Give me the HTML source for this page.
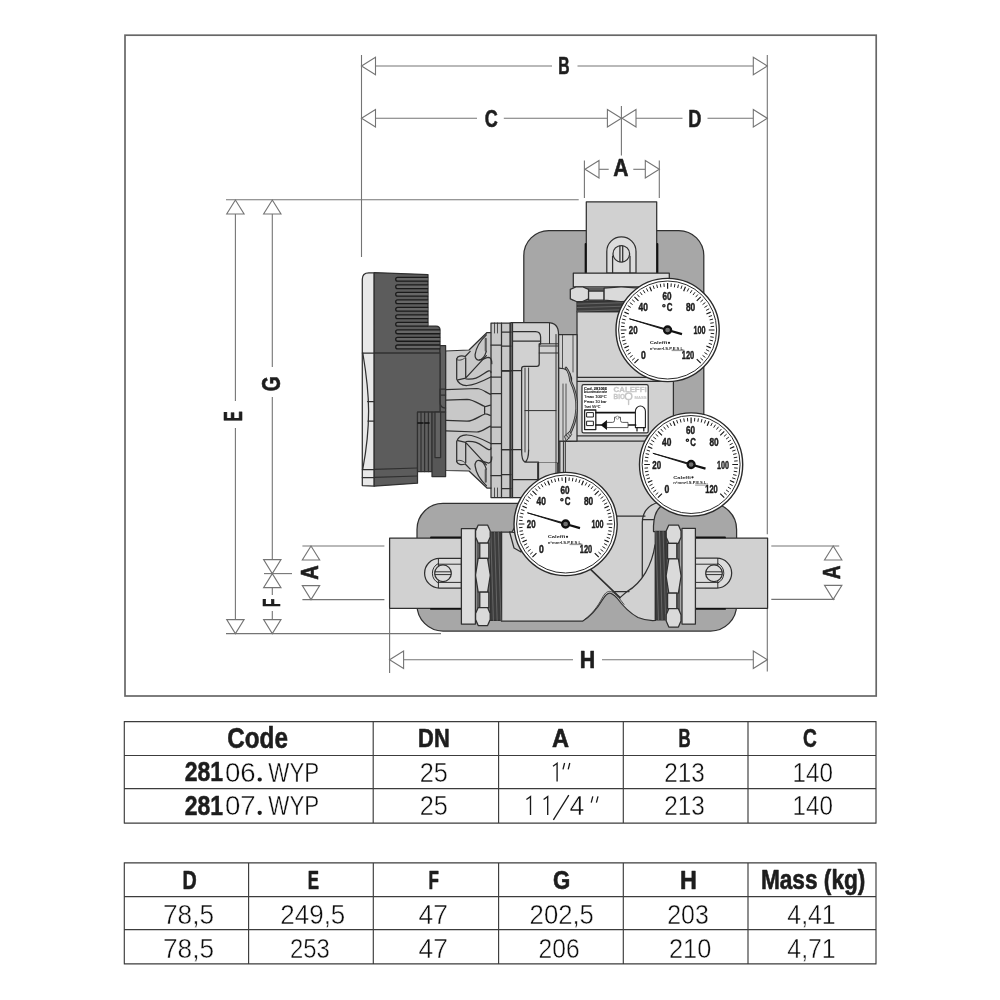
<!DOCTYPE html>
<html><head><meta charset="utf-8"><title>Dimensions</title>
<style>
html,body{margin:0;padding:0;background:#fff;}
body{width:1000px;height:1000px;overflow:hidden;}
svg{display:block;font-family:"Liberation Sans",sans-serif;filter:grayscale(1);}
</style></head><body>
<svg width="1000" height="1000" viewBox="0 0 1000 1000">
<rect x="0" y="0" width="1000" height="1000" fill="#ffffff"/>
<g id="frame">
<rect x="125" y="35.2" width="751.2" height="660.8" fill="none" stroke="#676767" stroke-width="1.7"/>
</g>
<g id="dims" fill="none" stroke="#747474" stroke-width="1.1">
<path d="M361.5 55L361.5 257"/>
<path d="M767.3 55L767.3 534.2"/>
<path d="M767.3 608.5L767.3 671.5"/>
<path d="M389.6 608.5L389.6 673"/>
<path d="M621.4 106L621.4 155.5"/>
<path d="M584.4 160.5L584.4 198"/>
<path d="M659.3 160.5L659.3 198"/>
<path d="M375.5 66L552 66"/>
<path d="M577.5 66L753.3 66"/>
<path d="M361.5 66L375.5 57.3L375.5 74.7Z" fill="#fff"/>
<path d="M767.3 66L753.3 57.3L753.3 74.7Z" fill="#fff"/>
<path d="M375.5 118.3L477 118.3"/>
<path d="M503.8 118.3L607.4 118.3"/>
<path d="M361.5 118.3L375.5 109.6L375.5 127.0Z" fill="#fff"/>
<path d="M621.4 118.3L607.4 109.6L607.4 127.0Z" fill="#fff"/>
<path d="M636 118.3L682.5 118.3"/>
<path d="M707.5 118.3L753.3 118.3"/>
<path d="M622 118.3L636 109.6L636 127.0Z" fill="#fff"/>
<path d="M767.3 118.3L753.3 109.6L753.3 127.0Z" fill="#fff"/>
<path d="M599 169.3L608.7 169.3"/>
<path d="M633.3 169.3L645.3 169.3"/>
<path d="M585 169.3L599 160.60000000000002L599 178.0Z" fill="#fff"/>
<path d="M659.3 169.3L645.3 160.60000000000002L645.3 178.0Z" fill="#fff"/>
<path d="M226 199.8L578.7 199.8"/>
<path d="M226 633.6L441 633.6"/>
<path d="M235.4 214L235.4 401"/>
<path d="M235.4 428L235.4 620"/>
<path d="M235.4 200L226.70000000000002 214L244.1 214Z" fill="#fff"/>
<path d="M235.4 633.6L226.70000000000002 619.6L244.1 619.6Z" fill="#fff"/>
<path d="M272.3 214L272.3 367"/>
<path d="M272.3 397L272.3 559.5"/>
<path d="M272.3 200L263.6 214L281.0 214Z" fill="#fff"/>
<path d="M272.3 573.6L263.6 559.6L281.0 559.6Z" fill="#fff"/>
<path d="M264 573.6L292 573.6"/>
<path d="M272.3 587.5L272.3 595"/>
<path d="M272.3 611L272.3 620"/>
<path d="M272.3 573.6L263.6 587.6L281.0 587.6Z" fill="#fff"/>
<path d="M272.3 633.6L263.6 619.6L281.0 619.6Z" fill="#fff"/>
<path d="M302.4 546L384.4 546"/>
<path d="M302.4 599.6L384.4 599.6"/>
<path d="M311 546L302.3 560L319.7 560Z" fill="#fff"/>
<path d="M311 599.6L302.3 585.6L319.7 585.6Z" fill="#fff"/>
<path d="M771.3 546L839.2 546"/>
<path d="M771.3 599.4L834.6 599.4"/>
<path d="M833.2 546L824.5 560L841.9000000000001 560Z" fill="#fff"/>
<path d="M833.2 599.4L824.5 585.4L841.9000000000001 585.4Z" fill="#fff"/>
<path d="M403.6 659.7L573 659.7"/>
<path d="M602 659.7L753.3 659.7"/>
<path d="M389.6 659.7L403.6 651.0L403.6 668.4000000000001Z" fill="#fff"/>
<path d="M767.3 659.7L753.3 651.0L753.3 668.4000000000001Z" fill="#fff"/>
</g>
<text transform="translate(558.30,73.70) scale(0.6726,1)" font-size="23.33" font-weight="bold" fill="#1e1e1e"  stroke="#1e1e1e" stroke-width="0.6" stroke-linejoin="round">B</text>
<text transform="translate(484.80,127.20) scale(0.7479,1)" font-size="24.14" font-weight="bold" fill="#1e1e1e"  stroke="#1e1e1e" stroke-width="0.6" stroke-linejoin="round">C</text>
<text transform="translate(688.30,126.80) scale(0.7749,1)" font-size="23.48" font-weight="bold" fill="#1e1e1e"  stroke="#1e1e1e" stroke-width="0.6" stroke-linejoin="round">D</text>
<text transform="translate(613.30,175.80) scale(0.8937,1)" font-size="23.62" font-weight="bold" fill="#1e1e1e"  stroke="#1e1e1e" stroke-width="0.6" stroke-linejoin="round">A</text>
<text transform="translate(579.80,668.00) scale(0.8837,1)" font-size="24.20" font-weight="bold" fill="#1e1e1e"  stroke="#1e1e1e" stroke-width="0.6" stroke-linejoin="round">H</text>
<text transform="rotate(-90) translate(-421.30,241.90) scale(0.5963,1)" font-size="25.22" font-weight="bold" fill="#1e1e1e"  stroke="#1e1e1e" stroke-width="0.6" stroke-linejoin="round">E</text>
<text transform="rotate(-90) translate(-391.30,279.90) scale(0.7563,1)" font-size="25.43" font-weight="bold" fill="#1e1e1e"  stroke="#1e1e1e" stroke-width="0.6" stroke-linejoin="round">G</text>
<text transform="rotate(-90) translate(-607.10,279.70) scale(0.5656,1)" font-size="24.35" font-weight="bold" fill="#1e1e1e"  stroke="#1e1e1e" stroke-width="0.6" stroke-linejoin="round">F</text>
<text transform="rotate(-90) translate(-579.70,317.90) scale(0.8118,1)" font-size="24.64" font-weight="bold" fill="#1e1e1e"  stroke="#1e1e1e" stroke-width="0.6" stroke-linejoin="round">A</text>
<text transform="rotate(-90) translate(-579.30,840.10) scale(0.7872,1)" font-size="24.35" font-weight="bold" fill="#1e1e1e"  stroke="#1e1e1e" stroke-width="0.6" stroke-linejoin="round">A</text>
<g id="draw" stroke="#303030" stroke-width="1.25" stroke-linejoin="round" stroke-linecap="round">
<rect x="523.8" y="230.5" width="180" height="255" rx="25" ry="25" fill="#a6a7a9"/>
<rect x="417" y="503.4" width="319.6" height="127.6" rx="26" ry="26" fill="#a6a7a9"/>
<rect x="586.3" y="201.8" width="70.4" height="72" fill="#d0d1d2"/>
<path d="M585.6 244V273M657.4 244V273" stroke="#111" stroke-width="1.9" fill="none"/>
<path d="M606.8 273V251.5A14.6 14.6 0 0 1 636 251.5V273Z" fill="#dcdcdd"/>
<path d="M612.6 273V256M630 273V256" fill="none"/>
<circle cx="621.3" cy="253.8" r="8.3" fill="#dcdcdd"/>
<path d="M619.9 245.8V261.8M622.7 245.8V261.8" fill="none"/>
<rect x="389.6" y="538" width="72" height="70.3" fill="#d0d1d2"/>
<path d="M431 537.4H461M431 608.9H461" stroke="#111" stroke-width="1.9" fill="none"/>
<path d="M461.4 558.4H439.4A14.8 14.8 0 0 0 439.4 588H461.4Z" fill="#dcdcdd"/>
<path d="M461.4 564.2H438.4M461.4 582.4H438.4M438.4 558.6V587.8" fill="none" stroke-width="1"/>
<path d="M438.4 563.4A11 11 0 0 0 438.4 583" fill="none" stroke-width="1"/>
<circle cx="443" cy="573.2" r="8.3" fill="#dcdcdd"/>
<path d="M435 571.8H451M435 574.6H451" fill="none" stroke-width="1"/>
<rect x="695.4" y="538" width="72.2" height="70.3" fill="#d0d1d2"/>
<path d="M695.4 537.4H725M695.4 608.9H725" stroke="#111" stroke-width="1.9" fill="none"/>
<path d="M695.4 558.2H716.8A14.9 14.9 0 0 1 716.8 588H695.4Z" fill="#dcdcdd"/>
<path d="M695.4 564.2H717.8M695.4 582.4H717.8M717.8 558.4V587.8" fill="none" stroke-width="1"/>
<path d="M717.8 563.4A11 11 0 0 1 717.8 583" fill="none" stroke-width="1"/>
<circle cx="714" cy="573.2" r="8.3" fill="#dcdcdd"/>
<path d="M706 571.8H722M706 574.6H722" fill="none" stroke-width="1"/>
<path d="M577 311.6H665.5V377.4H673.4V480L666 503Q654 508 653.5 526V531.5H655.4V620.4C650 620.8 644 620 638 617.5C628 612 621 603.5 617 598C614 595 612 593.2 609.5 593.2C607.5 593.2 605.5 595 602.7 599.5C597 609 590 617 582.5 621.2H501.5V532H512L530 500L557 478V441H570.8V377.4H577Z" fill="#d0d1d2"/>
<path d="M570.8 377.4H673.4M570.8 381.3H673.4M570.8 435.9H673.4M565.3 441H673.4" fill="none"/>
<path d="M557 441V478M559.8 441V476" fill="none"/>
<path d="M558.5 334.5H577V441H558.5Z" fill="#d0d1d2"/>
<path d="M562.5 334.5V368M573 334.5V372" fill="none" stroke-width="0.8"/>
<path d="M559 368Q570 368 571.5 378V381" fill="none"/>
<path d="M566 368Q569.5 372 570.6 381Q584.4 409 567.4 438" fill="none" stroke-width="2.6"/>
<path d="M566 368Q569.5 372 570.6 381Q584.4 409 567.4 438" fill="none" stroke="#c4c4c5" stroke-width="0.7"/>
<path d="M564.6 436L569.6 431.4L571.6 434.6L566.6 440.6Z" fill="#bbb" stroke-width="0.9"/>
<path d="M566.4 435.2L569 438.4M568 433.4L570.4 436.4" fill="none" stroke-width="0.7"/>
<path d="M565.3 441V478M563.4 441V476" fill="none" stroke-width="1"/>
<path d="M566 384V436M563 384V440" fill="none" stroke-width="0.8"/>
<path d="M659.4 502Q643 506 642.3 522V577M642.3 519.5H653.5" fill="none"/>
<path d="M590.6 569.4L620 597.6" fill="none" stroke-width="1.6"/>
<path d="M655 545C652 565 642 583 627 591.5L620 597.6" fill="none"/>
<path d="M613 591.5H629" fill="none"/>
<path d="M617 516H645" fill="none"/>
<path d="M584.6 619.4C591.6 614.6 597.6 606.6 602.2 598C604.6 593.6 606.8 591.4 609.4 591.4C612.4 591.4 615 593.6 618.6 597.4C620.6 600 622.4 602.4 624 604.4" fill="none" stroke-width="0.8"/>
<path d="M509.6 532L514 548L521 552L525 534Z" fill="#d0d1d2"/>
<rect x="582" y="384.6" width="66.2" height="48.3" rx="1.6" fill="#fff"/>
<text x="584.0" y="390.0" font-size="4.3" font-weight="bold" fill="#111" stroke="#111" stroke-width="0.12" textLength="23" lengthAdjust="spacingAndGlyphs">Cod. 281066</text>
<text x="584.0" y="393.4" font-size="3.0" font-weight="normal" fill="#111" stroke="#111" stroke-width="0.12" textLength="23" lengthAdjust="spacingAndGlyphs">Anti-condensation valve</text>
<text x="584.0" y="398.2" font-size="4.4" font-weight="normal" fill="#111" stroke="#111" stroke-width="0.12" textLength="22.6" lengthAdjust="spacingAndGlyphs">Tmax 100&#176;C</text>
<text x="584.0" y="402.9" font-size="4.4" font-weight="normal" fill="#111" stroke="#111" stroke-width="0.12" textLength="22.6" lengthAdjust="spacingAndGlyphs">Pmax 10 bar</text>
<text x="584.0" y="407.6" font-size="4.4" font-weight="normal" fill="#111" stroke="#111" stroke-width="0.12" textLength="16.4" lengthAdjust="spacingAndGlyphs">Tset 55&#176;C</text>
<text x="613.6" y="392.3" font-size="7.2" font-weight="bold" fill="#c3c7ca" stroke="#c3c7ca" stroke-width="0.3" textLength="33" lengthAdjust="spacingAndGlyphs">CALEFFI</text>
<text x="613.6" y="399" font-size="6.4" font-weight="bold" fill="#c3c7ca" stroke="#c3c7ca" stroke-width="0.3" textLength="11.4" lengthAdjust="spacingAndGlyphs">BIO</text>
<text x="634.6" y="398.8" font-size="3.8" font-weight="bold" fill="#c3c7ca" stroke="#c3c7ca" stroke-width="0.12" textLength="12" lengthAdjust="spacingAndGlyphs">MASS</text>
<circle cx="628.6" cy="396.2" r="3.3" fill="#fff" stroke="#c3c7ca" stroke-width="1.5"/>
<path d="M628.6 399.8V404.6" stroke="#c3c7ca" stroke-width="1.4" fill="none"/>
<rect x="584.6" y="410" width="11.2" height="19.6" fill="#fff" stroke="#222" stroke-width="1.3"/>
<rect x="587" y="412.6" width="6.4" height="4.4" fill="#fff" stroke="#222" stroke-width="1"/>
<rect x="587" y="421.2" width="6.4" height="4.4" fill="#fff" stroke="#222" stroke-width="1"/>
<path d="M596 412.6H635" stroke="#111" stroke-width="1.7" fill="none"/>
<path d="M635.4 427.6V411.2A5 5.2 0 0 1 645.4 411.2V427.6Z" fill="#fff" stroke="#222" stroke-width="1.1"/>
<path d="M637 428V431M643.8 428V431" stroke="#111" stroke-width="1.2" fill="none"/>
<path d="M628.5 425H635.6" stroke="#111" stroke-width="1.7" fill="none"/>
<path d="M596 425H601" stroke="#111" stroke-width="1.7" fill="none"/>
<path d="M600.6 425L607 420V430Z" fill="#111" stroke="none"/>
<path d="M607 422.4H612.5Q614.5 422.4 614.5 420.4V417.2H620.5V420.4Q620.5 422.4 622.5 422.4H628V427.6H607Z" fill="#fff" stroke="#333" stroke-width="0.8"/>
<circle cx="617.5" cy="417.6" r="1.6" fill="#fff" stroke="#555" stroke-width="0.5"/>
<rect x="577" y="301" width="88.5" height="10.600000000000023" fill="#3c3c3c"/>
<path d="M577 304.07L665.5 301.47M577 307.60L665.5 305.00M577 311.13L665.5 308.53" stroke="#6e6e6e" stroke-width="0.8" fill="none"/>
<rect x="490.2" y="532" width="11.300000000000011" height="88.39999999999998" fill="#3c3c3c"/>
<path d="M490.78 532L493.38 620.4M494.55 532L497.15 620.4M498.32 532L500.92 620.4" stroke="#6e6e6e" stroke-width="0.8" fill="none"/>
<rect x="655.4" y="531.4" width="10.800000000000068" height="88.39999999999998" fill="#3c3c3c"/>
<path d="M655.90 531.4L658.50 619.8M659.50 531.4L662.10 619.8M663.10 531.4L665.70 619.8" stroke="#6e6e6e" stroke-width="0.8" fill="none"/>
<rect x="573.3" y="273.2" width="96" height="13.6" fill="#dcdcdd"/>
<rect x="461.4" y="528.6" width="14" height="95.4" fill="#dcdcdd"/>
<rect x="682" y="528.4" width="13.4" height="95.6" fill="#dcdcdd"/>
<path d="M476.60 527.00L476.60 623.50L489.20 623.50L489.20 527.00Z" fill="#5c5c5d" stroke="none"/>
<path d="M478.20 525.00L487.60 525.00L490.20 531.00L490.20 537.00L487.60 543.00L478.20 543.00L475.60 537.00L475.60 531.00Z" fill="#dadadb"/>
<path d="M479.80 543.00L488.80 543.00L488.80 558.30L479.80 558.30Z" fill="#dadadb"/>
<path d="M478.20 558.30L487.60 558.30L490.20 574.65L490.20 575.85L487.60 592.20L478.20 592.20L475.60 575.85L475.60 574.65Z" fill="#dadadb"/>
<path d="M479.80 592.20L488.80 592.20L488.80 607.50L479.80 607.50Z" fill="#dadadb"/>
<path d="M478.20 607.50L487.60 607.50L490.20 613.50L490.20 619.50L487.60 625.50L478.20 625.50L475.60 619.50L475.60 613.50Z" fill="#dadadb"/>
<path d="M680.00 527.00L680.00 625.00L667.20 625.00L667.20 527.00Z" fill="#5c5c5d" stroke="none"/>
<path d="M678.40 525.00L668.80 525.00L666.20 531.09L666.20 537.18L668.80 543.27L678.40 543.27L681.00 537.18L681.00 531.09Z" fill="#dadadb"/>
<path d="M676.80 543.27L667.60 543.27L667.60 558.80L676.80 558.80Z" fill="#dadadb"/>
<path d="M678.40 558.80L668.80 558.80L666.20 575.40L666.20 576.60L668.80 593.20L678.40 593.20L681.00 576.60L681.00 575.40Z" fill="#dadadb"/>
<path d="M676.80 593.20L667.60 593.20L667.60 608.73L676.80 608.73Z" fill="#dadadb"/>
<path d="M678.40 608.73L668.80 608.73L666.20 614.82L666.20 620.91L668.80 627.00L678.40 627.00L681.00 620.91L681.00 614.82Z" fill="#dadadb"/>
<path d="M572.30 287.80L670.30 287.80L670.30 300.50L572.30 300.50Z" fill="#5c5c5d" stroke="none"/>
<path d="M570.30 289.40L570.30 298.90L576.39 301.50L582.48 301.50L588.57 298.90L588.57 289.40L582.48 286.80L576.39 286.80Z" fill="#dadadb"/>
<path d="M588.57 291.00L588.57 300.10L604.10 300.10L604.10 291.00Z" fill="#dadadb"/>
<path d="M604.10 288.10L604.10 300.20L620.70 301.50L621.90 301.50L638.50 300.20L638.50 288.10L621.90 286.80L620.70 286.80Z" fill="#dadadb"/>
<path d="M638.50 291.00L638.50 300.10L654.03 300.10L654.03 291.00Z" fill="#dadadb"/>
<path d="M654.03 289.40L654.03 298.90L660.12 301.50L666.21 301.50L672.30 298.90L672.30 289.40L666.21 286.80L660.12 286.80Z" fill="#dadadb"/>
<path d="M445.5 351L469 350L487 332.5H491V323H511V497.5H491V488H487L469 471L445.5 470.5Z" fill="#c8c8c9"/>
<path d="M511 322.5H548Q558.5 322.5 558.5 334V463H538V497.5H511Z" fill="#d0d1d2"/>
<path d="M538 463V497.5H557V463Z" fill="#d0d1d2" stroke="none"/>
<path d="M538 463V497.5" fill="none"/>
<path d="M491 333V488M501.5 323V497.5M510 323V497.5M512.5 323V497.5" fill="none"/>
<path d="M494.5 323V333M497.5 323V333M494.5 488V497.5M497.5 488V497.5" fill="none" stroke-width="0.8"/>
<g>
<path d="M491 345H501.5M491 377H501.5M491 393.5H501.5M501.5 332H511M501.5 346H511M501.5 371H511" fill="none"/>
<path d="M456.7 358.8V379C458 383 462 385.6 467 385.5C472 385.4 482 381.6 491.3 376.8" fill="none"/>
<path d="M456.7 358.8C457.5 356 461.5 355.4 465.2 356.5L470.2 351.4" fill="none"/>
<path d="M456.9 359.6C459 361 463 360 465.4 357.4" fill="none" stroke-width="0.9"/>
<path d="M465.7 357.9V378.1M458 379.9L465.7 378.1M466.1 377.7L486.4 355.6" fill="none"/>
<path d="M486.4 334.9C481 340 476 348 475.1 354.7C474.8 358 476.6 360.3 478.7 360.1C482 359.8 485 356 486.4 351.1" fill="none"/>
<path d="M479.5 360C483 359.6 486 357.6 488.6 357.4C491 357.6 491.8 360 491.8 363.7" fill="none"/>
<path d="M466.1 379C470 379.2 474 378.8 476 378.1C481 376.4 485 372.4 488.6 370.9C490.4 370.4 491.2 371.4 490.9 372.7" fill="none"/>
<path d="M445.9 389.6L476.9 388.5C482 388.6 486 392.6 490.4 394.3" fill="none"/>
<path d="M445.9 400.2L467 399.3C474 399.4 480 405 485 406.5C487 406.6 489 405.6 490.4 405.1M484.6 406.5V410.3" fill="none"/>
<path d="M485.75 338.8V350.8" stroke="#5a5a5a" stroke-width="2.1" fill="none" stroke-linecap="round"/>
</g>
<g transform="translate(0,820.5) scale(1,-1)">
<path d="M491 345H501.5M491 377H501.5M491 393.5H501.5M501.5 332H511M501.5 346H511M501.5 371H511" fill="none"/>
<path d="M456.7 358.8V379C458 383 462 385.6 467 385.5C472 385.4 482 381.6 491.3 376.8" fill="none"/>
<path d="M456.7 358.8C457.5 356 461.5 355.4 465.2 356.5L470.2 351.4" fill="none"/>
<path d="M456.9 359.6C459 361 463 360 465.4 357.4" fill="none" stroke-width="0.9"/>
<path d="M465.7 357.9V378.1M458 379.9L465.7 378.1M466.1 377.7L486.4 355.6" fill="none"/>
<path d="M486.4 334.9C481 340 476 348 475.1 354.7C474.8 358 476.6 360.3 478.7 360.1C482 359.8 485 356 486.4 351.1" fill="none"/>
<path d="M479.5 360C483 359.6 486 357.6 488.6 357.4C491 357.6 491.8 360 491.8 363.7" fill="none"/>
<path d="M466.1 379C470 379.2 474 378.8 476 378.1C481 376.4 485 372.4 488.6 370.9C490.4 370.4 491.2 371.4 490.9 372.7" fill="none"/>
<path d="M445.9 389.6L476.9 388.5C482 388.6 486 392.6 490.4 394.3" fill="none"/>
<path d="M445.9 400.2L467 399.3C474 399.4 480 405 485 406.5C487 406.6 489 405.6 490.4 405.1M484.6 406.5V410.3" fill="none"/>
<path d="M485.75 338.8V350.8" stroke="#5a5a5a" stroke-width="2.1" fill="none" stroke-linecap="round"/>
</g>
<path d="M512.5 331.6H535.5Q540.6 331.6 540.6 337V344H539.2V364Q539.2 366.4 536.8 366.4H524Q521.6 366.4 521.6 369V450" fill="none"/>
<path d="M512.5 341H540.6M501.5 370.6H521.6M501.5 449.6H521.6" fill="none"/>
<path d="M549.5 323V343.6M539.2 343.8H558.5M539.2 346H558.5M539.2 353H558.5" fill="none" stroke-width="1"/>
<path d="M525 368V452M528.6 368V450" fill="none" stroke-width="0.9"/>
<path d="M525 410.6H556" fill="none" stroke-width="1"/>
<path d="M521.6 450Q521.6 461 525 462.2H538.5V497.5M528.6 450Q528.6 460 525 462.2" fill="none"/>
<path d="M512.5 479.6H538.5" fill="none"/>
<path d="M556 334.5V497.5M558.6 353V478" fill="none" stroke-width="1"/>
<path d="M362.3 485.6V279.3Q362.3 272.8 368.8 272.8H374.2V486.2Z" fill="#e8e8e8"/>
<path d="M362.3 353H374M367.6 401.5H374M368 421H374M362.3 469.6H374M362.3 477.6H374" fill="none"/>
<path d="M362.8 353C366 372 368.6 392 368.6 411C368.6 432 366 452 362.8 469" fill="none"/>
<path d="M374.2 272.6L428 274.6V326H436Q440 326 440 330V353H374.2Z" fill="#5b5c5e"/>
<rect x="440" y="345.6" width="5.6" height="66.4" fill="#606163"/>
<path d="M374.2 353H440V412H417.5V483.2L374.2 486.2Z" fill="#5b5c5e"/>
<path d="M374.2 469.4L417.5 468M374.2 477.4L417.5 476" fill="none"/>
<path d="M440 389V402Q440 408 445.6 408M440 389H445.6M440 395H445.6" fill="none"/>
<path d="M427.6 277.30H397.6A1.9 1.9 0 0 0 397.6 281.10H427.6" fill="#666769" stroke="#1a1a1a" stroke-width="1.3"/>
<path d="M427.6 284.82H397.6A1.9 1.9 0 0 0 397.6 288.62H427.6" fill="#666769" stroke="#1a1a1a" stroke-width="1.3"/>
<path d="M427.6 292.34H397.6A1.9 1.9 0 0 0 397.6 296.14H427.6" fill="#666769" stroke="#1a1a1a" stroke-width="1.3"/>
<path d="M427.6 299.86H397.6A1.9 1.9 0 0 0 397.6 303.66H427.6" fill="#666769" stroke="#1a1a1a" stroke-width="1.3"/>
<path d="M427.6 307.38H397.6A1.9 1.9 0 0 0 397.6 311.18H427.6" fill="#666769" stroke="#1a1a1a" stroke-width="1.3"/>
<path d="M427.6 314.90H397.6A1.9 1.9 0 0 0 397.6 318.70H427.6" fill="#666769" stroke="#1a1a1a" stroke-width="1.3"/>
<path d="M427.6 322.42H397.6A1.9 1.9 0 0 0 397.6 326.22H427.6" fill="#666769" stroke="#1a1a1a" stroke-width="1.3"/>
<path d="M439.6 329.94H397.6A1.9 1.9 0 0 0 397.6 333.74H439.6" fill="#666769" stroke="#1a1a1a" stroke-width="1.3"/>
<path d="M439.6 337.46H397.6A1.9 1.9 0 0 0 397.6 341.26H439.6" fill="#666769" stroke="#1a1a1a" stroke-width="1.3"/>
<path d="M439.6 344.98H397.6A1.9 1.9 0 0 0 397.6 348.78H439.6" fill="#666769" stroke="#1a1a1a" stroke-width="1.3"/>
<rect x="417.5" y="412" width="14.6" height="59.6" fill="#5f6062"/>
<path d="M421 412V471.6M424.6 412V471.6M428.4 412V471.6" fill="none"/>
<rect x="432" y="412" width="13.6" height="64.6" fill="#56575a"/>
<rect x="435" y="412" width="5.6" height="45.6" fill="#626365"/>
<path d="M418 423H423M425 423H429" stroke="#111" stroke-width="1.6" fill="none"/>
</g>
<g transform="translate(667.6,330.0)">
<circle r="51.6" fill="#fff" stroke="#2a2a2a" stroke-width="1.4"/>
<circle r="49" fill="#fff" stroke="#2a2a2a" stroke-width="1"/>
<path d="M-32.85 28.06L-35.51 30.33M-34.95 25.39L-37.78 27.45M-36.83 22.57L-39.82 24.40M-38.49 19.61L-41.61 21.20M-41.09 13.35L-44.41 14.43M-42.01 10.08L-45.41 10.90M-42.67 6.76L-46.13 7.31M-43.07 3.39L-46.56 3.66M-43.07 -3.39L-46.56 -3.66M-42.67 -6.76L-46.13 -7.31M-42.01 -10.08L-45.41 -10.90M-41.09 -13.35L-44.41 -14.43M-38.49 -19.61L-41.61 -21.20M-36.83 -22.57L-39.82 -24.40M-34.95 -25.39L-37.78 -27.45M-32.85 -28.06L-35.51 -30.33M-28.06 -32.85L-30.33 -35.51M-25.39 -34.95L-27.45 -37.78M-22.57 -36.83L-24.40 -39.82M-19.61 -38.49L-21.20 -41.61M-13.35 -41.09L-14.43 -44.41M-10.08 -42.01L-10.90 -45.41M-6.76 -42.67L-7.31 -46.13M-3.39 -43.07L-3.66 -46.56M3.39 -43.07L3.66 -46.56M6.76 -42.67L7.31 -46.13M10.08 -42.01L10.90 -45.41M13.35 -41.09L14.43 -44.41M19.61 -38.49L21.20 -41.61M22.57 -36.83L24.40 -39.82M25.39 -34.95L27.45 -37.78M28.06 -32.85L30.33 -35.51M32.85 -28.06L35.51 -30.33M34.95 -25.39L37.78 -27.45M36.83 -22.57L39.82 -24.40M38.49 -19.61L41.61 -21.20M41.09 -13.35L44.41 -14.43M42.01 -10.08L45.41 -10.90M42.67 -6.76L46.13 -7.31M43.07 -3.39L46.56 -3.66M43.07 3.39L46.56 3.66M42.67 6.76L46.13 7.31M42.01 10.08L45.41 10.90M41.09 13.35L44.41 14.43M38.49 19.61L41.61 21.20M36.83 22.57L39.82 24.40M34.95 25.39L37.78 27.45M32.85 28.06L35.51 30.33" stroke="#222" stroke-width="1.0" fill="none" stroke-linecap="butt"/>
<path d="M-29.13 29.13L-33.16 33.16M-38.80 16.07L-43.15 17.87M-41.20 -0.00L-46.90 -0.00M-38.80 -16.07L-43.15 -17.87M-29.13 -29.13L-33.16 -33.16M-16.07 -38.80L-17.87 -43.15M0.00 -41.20L0.00 -46.90M16.07 -38.80L17.87 -43.15M29.13 -29.13L33.16 -33.16M38.80 -16.07L43.15 -17.87M41.20 -0.00L46.90 -0.00M38.80 16.07L43.15 17.87M29.13 29.13L33.16 33.16" stroke="#1a1a1a" stroke-width="1.2" fill="none" stroke-linecap="butt"/>
<text transform="translate(-5.00,-30.30) scale(0.7775,1)" font-size="10.43" font-weight="bold" fill="#1c1c1c" stroke="#1c1c1c" stroke-width="0.45">60</text>
<text transform="translate(-29.00,-18.60) scale(0.8034,1)" font-size="10.43" font-weight="bold" fill="#1c1c1c" stroke="#1c1c1c" stroke-width="0.45">40</text>
<text transform="translate(18.30,-18.60) scale(0.7948,1)" font-size="10.43" font-weight="bold" fill="#1c1c1c" stroke="#1c1c1c" stroke-width="0.45">80</text>
<text transform="translate(-38.80,4.00) scale(0.7602,1)" font-size="10.43" font-weight="bold" fill="#1c1c1c" stroke="#1c1c1c" stroke-width="0.45">20</text>
<text transform="translate(26.00,4.00) scale(0.6890,1)" font-size="10.43" font-weight="bold" fill="#1c1c1c" stroke="#1c1c1c" stroke-width="0.45">100</text>
<text transform="translate(-26.60,28.90) scale(0.8293,1)" font-size="10.43" font-weight="bold" fill="#1c1c1c" stroke="#1c1c1c" stroke-width="0.45">0</text>
<text transform="translate(14.20,28.90) scale(0.7177,1)" font-size="10.43" font-weight="bold" fill="#1c1c1c" stroke="#1c1c1c" stroke-width="0.45">120</text>
<text transform="translate(-0.90,-18.60) scale(0.7591,1)" font-size="10.43" font-weight="bold" fill="#1c1c1c" stroke="#1c1c1c" stroke-width="0.45">C</text>
<circle cx="-3.7" cy="-24.3" r="1.15" fill="#fff" stroke="#1c1c1c" stroke-width="1.25"/>
<text x="-17.9" y="14.2" font-size="4" font-weight="bold" fill="#222" textLength="17.6" lengthAdjust="spacingAndGlyphs">Caleffi</text>
<circle cx="1.4" cy="12.8" r="1.1" fill="#222"/>
<text x="-17.9" y="19.8" font-size="4" font-weight="bold" fill="#222" textLength="34.6" lengthAdjust="spacingAndGlyphs">n&#176;mm&#8226;I.S.P.E.S.L.</text>
<path d="M4 20.6H16.8" stroke="#222" stroke-width="0.5" fill="none"/>
<path d="M-38.2 -11.2L-0.5 -0.8L0.5 0.8Z" fill="#111" stroke="#111" stroke-width="0.9" stroke-linejoin="round"/>
<path d="M0 0L14.4 4.1" stroke="#111" stroke-width="2.3" fill="none" stroke-linecap="butt"/>
<circle r="3.5" fill="#707070" stroke="#111" stroke-width="2.3"/>
</g>
<g transform="translate(691.1,464.5)">
<circle r="51.6" fill="#fff" stroke="#2a2a2a" stroke-width="1.4"/>
<circle r="49" fill="#fff" stroke="#2a2a2a" stroke-width="1"/>
<path d="M-32.85 28.06L-35.51 30.33M-34.95 25.39L-37.78 27.45M-36.83 22.57L-39.82 24.40M-38.49 19.61L-41.61 21.20M-41.09 13.35L-44.41 14.43M-42.01 10.08L-45.41 10.90M-42.67 6.76L-46.13 7.31M-43.07 3.39L-46.56 3.66M-43.07 -3.39L-46.56 -3.66M-42.67 -6.76L-46.13 -7.31M-42.01 -10.08L-45.41 -10.90M-41.09 -13.35L-44.41 -14.43M-38.49 -19.61L-41.61 -21.20M-36.83 -22.57L-39.82 -24.40M-34.95 -25.39L-37.78 -27.45M-32.85 -28.06L-35.51 -30.33M-28.06 -32.85L-30.33 -35.51M-25.39 -34.95L-27.45 -37.78M-22.57 -36.83L-24.40 -39.82M-19.61 -38.49L-21.20 -41.61M-13.35 -41.09L-14.43 -44.41M-10.08 -42.01L-10.90 -45.41M-6.76 -42.67L-7.31 -46.13M-3.39 -43.07L-3.66 -46.56M3.39 -43.07L3.66 -46.56M6.76 -42.67L7.31 -46.13M10.08 -42.01L10.90 -45.41M13.35 -41.09L14.43 -44.41M19.61 -38.49L21.20 -41.61M22.57 -36.83L24.40 -39.82M25.39 -34.95L27.45 -37.78M28.06 -32.85L30.33 -35.51M32.85 -28.06L35.51 -30.33M34.95 -25.39L37.78 -27.45M36.83 -22.57L39.82 -24.40M38.49 -19.61L41.61 -21.20M41.09 -13.35L44.41 -14.43M42.01 -10.08L45.41 -10.90M42.67 -6.76L46.13 -7.31M43.07 -3.39L46.56 -3.66M43.07 3.39L46.56 3.66M42.67 6.76L46.13 7.31M42.01 10.08L45.41 10.90M41.09 13.35L44.41 14.43M38.49 19.61L41.61 21.20M36.83 22.57L39.82 24.40M34.95 25.39L37.78 27.45M32.85 28.06L35.51 30.33" stroke="#222" stroke-width="1.0" fill="none" stroke-linecap="butt"/>
<path d="M-29.13 29.13L-33.16 33.16M-38.80 16.07L-43.15 17.87M-41.20 -0.00L-46.90 -0.00M-38.80 -16.07L-43.15 -17.87M-29.13 -29.13L-33.16 -33.16M-16.07 -38.80L-17.87 -43.15M0.00 -41.20L0.00 -46.90M16.07 -38.80L17.87 -43.15M29.13 -29.13L33.16 -33.16M38.80 -16.07L43.15 -17.87M41.20 -0.00L46.90 -0.00M38.80 16.07L43.15 17.87M29.13 29.13L33.16 33.16" stroke="#1a1a1a" stroke-width="1.2" fill="none" stroke-linecap="butt"/>
<text transform="translate(-5.00,-30.30) scale(0.7775,1)" font-size="10.43" font-weight="bold" fill="#1c1c1c" stroke="#1c1c1c" stroke-width="0.45">60</text>
<text transform="translate(-29.00,-18.60) scale(0.8034,1)" font-size="10.43" font-weight="bold" fill="#1c1c1c" stroke="#1c1c1c" stroke-width="0.45">40</text>
<text transform="translate(18.30,-18.60) scale(0.7948,1)" font-size="10.43" font-weight="bold" fill="#1c1c1c" stroke="#1c1c1c" stroke-width="0.45">80</text>
<text transform="translate(-38.80,4.00) scale(0.7602,1)" font-size="10.43" font-weight="bold" fill="#1c1c1c" stroke="#1c1c1c" stroke-width="0.45">20</text>
<text transform="translate(26.00,4.00) scale(0.6890,1)" font-size="10.43" font-weight="bold" fill="#1c1c1c" stroke="#1c1c1c" stroke-width="0.45">100</text>
<text transform="translate(-26.60,28.90) scale(0.8293,1)" font-size="10.43" font-weight="bold" fill="#1c1c1c" stroke="#1c1c1c" stroke-width="0.45">0</text>
<text transform="translate(14.20,28.90) scale(0.7177,1)" font-size="10.43" font-weight="bold" fill="#1c1c1c" stroke="#1c1c1c" stroke-width="0.45">120</text>
<text transform="translate(-0.90,-18.60) scale(0.7591,1)" font-size="10.43" font-weight="bold" fill="#1c1c1c" stroke="#1c1c1c" stroke-width="0.45">C</text>
<circle cx="-3.7" cy="-24.3" r="1.15" fill="#fff" stroke="#1c1c1c" stroke-width="1.25"/>
<text x="-17.9" y="14.2" font-size="4" font-weight="bold" fill="#222" textLength="17.6" lengthAdjust="spacingAndGlyphs">Caleffi</text>
<circle cx="1.4" cy="12.8" r="1.1" fill="#222"/>
<text x="-17.9" y="19.8" font-size="4" font-weight="bold" fill="#222" textLength="34.6" lengthAdjust="spacingAndGlyphs">n&#176;mm&#8226;I.S.P.E.S.L.</text>
<path d="M4 20.6H16.8" stroke="#222" stroke-width="0.5" fill="none"/>
<path d="M-38.2 -11.2L-0.5 -0.8L0.5 0.8Z" fill="#111" stroke="#111" stroke-width="0.9" stroke-linejoin="round"/>
<path d="M0 0L14.4 4.1" stroke="#111" stroke-width="2.3" fill="none" stroke-linecap="butt"/>
<circle r="3.5" fill="#707070" stroke="#111" stroke-width="2.3"/>
</g>
<g transform="translate(565.6,524.0)">
<circle r="51.6" fill="#fff" stroke="#2a2a2a" stroke-width="1.4"/>
<circle r="49" fill="#fff" stroke="#2a2a2a" stroke-width="1"/>
<path d="M-32.85 28.06L-35.51 30.33M-34.95 25.39L-37.78 27.45M-36.83 22.57L-39.82 24.40M-38.49 19.61L-41.61 21.20M-41.09 13.35L-44.41 14.43M-42.01 10.08L-45.41 10.90M-42.67 6.76L-46.13 7.31M-43.07 3.39L-46.56 3.66M-43.07 -3.39L-46.56 -3.66M-42.67 -6.76L-46.13 -7.31M-42.01 -10.08L-45.41 -10.90M-41.09 -13.35L-44.41 -14.43M-38.49 -19.61L-41.61 -21.20M-36.83 -22.57L-39.82 -24.40M-34.95 -25.39L-37.78 -27.45M-32.85 -28.06L-35.51 -30.33M-28.06 -32.85L-30.33 -35.51M-25.39 -34.95L-27.45 -37.78M-22.57 -36.83L-24.40 -39.82M-19.61 -38.49L-21.20 -41.61M-13.35 -41.09L-14.43 -44.41M-10.08 -42.01L-10.90 -45.41M-6.76 -42.67L-7.31 -46.13M-3.39 -43.07L-3.66 -46.56M3.39 -43.07L3.66 -46.56M6.76 -42.67L7.31 -46.13M10.08 -42.01L10.90 -45.41M13.35 -41.09L14.43 -44.41M19.61 -38.49L21.20 -41.61M22.57 -36.83L24.40 -39.82M25.39 -34.95L27.45 -37.78M28.06 -32.85L30.33 -35.51M32.85 -28.06L35.51 -30.33M34.95 -25.39L37.78 -27.45M36.83 -22.57L39.82 -24.40M38.49 -19.61L41.61 -21.20M41.09 -13.35L44.41 -14.43M42.01 -10.08L45.41 -10.90M42.67 -6.76L46.13 -7.31M43.07 -3.39L46.56 -3.66M43.07 3.39L46.56 3.66M42.67 6.76L46.13 7.31M42.01 10.08L45.41 10.90M41.09 13.35L44.41 14.43M38.49 19.61L41.61 21.20M36.83 22.57L39.82 24.40M34.95 25.39L37.78 27.45M32.85 28.06L35.51 30.33" stroke="#222" stroke-width="1.0" fill="none" stroke-linecap="butt"/>
<path d="M-29.13 29.13L-33.16 33.16M-38.80 16.07L-43.15 17.87M-41.20 -0.00L-46.90 -0.00M-38.80 -16.07L-43.15 -17.87M-29.13 -29.13L-33.16 -33.16M-16.07 -38.80L-17.87 -43.15M0.00 -41.20L0.00 -46.90M16.07 -38.80L17.87 -43.15M29.13 -29.13L33.16 -33.16M38.80 -16.07L43.15 -17.87M41.20 -0.00L46.90 -0.00M38.80 16.07L43.15 17.87M29.13 29.13L33.16 33.16" stroke="#1a1a1a" stroke-width="1.2" fill="none" stroke-linecap="butt"/>
<text transform="translate(-5.00,-30.30) scale(0.7775,1)" font-size="10.43" font-weight="bold" fill="#1c1c1c" stroke="#1c1c1c" stroke-width="0.45">60</text>
<text transform="translate(-29.00,-18.60) scale(0.8034,1)" font-size="10.43" font-weight="bold" fill="#1c1c1c" stroke="#1c1c1c" stroke-width="0.45">40</text>
<text transform="translate(18.30,-18.60) scale(0.7948,1)" font-size="10.43" font-weight="bold" fill="#1c1c1c" stroke="#1c1c1c" stroke-width="0.45">80</text>
<text transform="translate(-38.80,4.00) scale(0.7602,1)" font-size="10.43" font-weight="bold" fill="#1c1c1c" stroke="#1c1c1c" stroke-width="0.45">20</text>
<text transform="translate(26.00,4.00) scale(0.6890,1)" font-size="10.43" font-weight="bold" fill="#1c1c1c" stroke="#1c1c1c" stroke-width="0.45">100</text>
<text transform="translate(-26.60,28.90) scale(0.8293,1)" font-size="10.43" font-weight="bold" fill="#1c1c1c" stroke="#1c1c1c" stroke-width="0.45">0</text>
<text transform="translate(14.20,28.90) scale(0.7177,1)" font-size="10.43" font-weight="bold" fill="#1c1c1c" stroke="#1c1c1c" stroke-width="0.45">120</text>
<text transform="translate(-0.90,-18.60) scale(0.7591,1)" font-size="10.43" font-weight="bold" fill="#1c1c1c" stroke="#1c1c1c" stroke-width="0.45">C</text>
<circle cx="-3.7" cy="-24.3" r="1.15" fill="#fff" stroke="#1c1c1c" stroke-width="1.25"/>
<text x="-17.9" y="14.2" font-size="4" font-weight="bold" fill="#222" textLength="17.6" lengthAdjust="spacingAndGlyphs">Caleffi</text>
<circle cx="1.4" cy="12.8" r="1.1" fill="#222"/>
<text x="-17.9" y="19.8" font-size="4" font-weight="bold" fill="#222" textLength="34.6" lengthAdjust="spacingAndGlyphs">n&#176;mm&#8226;I.S.P.E.S.L.</text>
<path d="M4 20.6H16.8" stroke="#222" stroke-width="0.5" fill="none"/>
<path d="M-38.2 -11.2L-0.5 -0.8L0.5 0.8Z" fill="#111" stroke="#111" stroke-width="0.9" stroke-linejoin="round"/>
<path d="M0 0L14.4 4.1" stroke="#111" stroke-width="2.3" fill="none" stroke-linecap="butt"/>
<circle r="3.5" fill="#707070" stroke="#111" stroke-width="2.3"/>
</g>
<g id="tables" stroke="#3c3c3c" stroke-width="1.15" fill="none">
<path d="M123.8 721.6H876.5M123.8 755.5H876.5M123.8 788.6H876.5M123.8 823.1H876.5M124.3 721.6V823.1M373.2 721.6V823.1M498.6 721.6V823.1M623.3 721.6V823.1M748.0 721.6V823.1M876.0 721.6V823.1"/>
<path d="M123.8 862.8H876.5M123.8 896.6H876.5M123.8 929.6H876.5M123.8 963.8H876.5M124.3 862.8V963.8M248.6 862.8V963.8M373.3 862.8V963.8M498.6 862.8V963.8M623.3 862.8V963.8M748.0 862.8V963.8M876.0 862.8V963.8"/>
</g>
<text transform="translate(227.30,747.70) scale(0.8363,1)" font-size="28.99" font-weight="bold" fill="#1d1d1d"  stroke="#1d1d1d" stroke-width="0.6" stroke-linejoin="round">Code</text>
<text transform="translate(418.10,747.00) scale(0.8477,1)" font-size="25.80" font-weight="bold" fill="#1d1d1d"  stroke="#1d1d1d" stroke-width="0.6" stroke-linejoin="round">DN</text>
<text transform="translate(552.10,747.00) scale(0.9153,1)" font-size="25.80" font-weight="bold" fill="#1d1d1d"  stroke="#1d1d1d" stroke-width="0.6" stroke-linejoin="round">A</text>
<text transform="translate(678.60,747.00) scale(0.6515,1)" font-size="25.80" font-weight="bold" fill="#1d1d1d"  stroke="#1d1d1d" stroke-width="0.6" stroke-linejoin="round">B</text>
<text transform="translate(802.90,747.40) scale(0.7213,1)" font-size="26.57" font-weight="bold" fill="#1d1d1d"  stroke="#1d1d1d" stroke-width="0.6" stroke-linejoin="round">C</text>
<text transform="translate(184.75,781.45) scale(0.8494,1)" font-size="27.14" font-weight="bold" fill="#1d1d1d"  stroke="#1d1d1d" stroke-width="0.5" stroke-linejoin="round">281</text>
<text transform="translate(224.90,781.70) scale(0.9729,1)" font-size="28.43" font-weight="normal" fill="#0c0c0c" stroke="#fff" stroke-width="0.45">06</text>
<rect x="257.6" y="777.4" width="4.2" height="4.2" rx="1.8" fill="#1d1d1d"/>
<text transform="translate(268.30,781.70) scale(0.7875,1)" font-size="28.41" font-weight="normal" fill="#0c0c0c" stroke="#fff" stroke-width="0.45">WYP</text>
<text transform="translate(419.80,781.70) scale(0.8905,1)" font-size="28.43" font-weight="normal" fill="#0c0c0c" stroke="#fff" stroke-width="0.45">25</text>
<text transform="translate(664.30,781.70) scale(0.8552,1)" font-size="28.43" font-weight="normal" fill="#0c0c0c" stroke="#fff" stroke-width="0.45">213</text>
<text transform="translate(792.60,781.70) scale(0.8531,1)" font-size="28.43" font-weight="normal" fill="#0c0c0c" stroke="#fff" stroke-width="0.45">140</text>
<text transform="translate(184.75,814.75) scale(0.8494,1)" font-size="27.14" font-weight="bold" fill="#1d1d1d"  stroke="#1d1d1d" stroke-width="0.5" stroke-linejoin="round">281</text>
<text transform="translate(224.90,815.00) scale(0.9729,1)" font-size="28.43" font-weight="normal" fill="#0c0c0c" stroke="#fff" stroke-width="0.45">07</text>
<rect x="257.6" y="810.6999999999999" width="4.2" height="4.2" rx="1.8" fill="#1d1d1d"/>
<text transform="translate(268.30,815.00) scale(0.7875,1)" font-size="28.41" font-weight="normal" fill="#0c0c0c" stroke="#fff" stroke-width="0.45">WYP</text>
<text transform="translate(419.80,815.00) scale(0.8905,1)" font-size="28.43" font-weight="normal" fill="#0c0c0c" stroke="#fff" stroke-width="0.45">25</text>
<text transform="translate(664.30,815.00) scale(0.8552,1)" font-size="28.43" font-weight="normal" fill="#0c0c0c" stroke="#fff" stroke-width="0.45">213</text>
<text transform="translate(792.60,815.00) scale(0.8531,1)" font-size="28.43" font-weight="normal" fill="#0c0c0c" stroke="#fff" stroke-width="0.45">140</text>
<path d="M553.0 766.2L557.1 763.3V781.6" stroke="#1a1a1a" stroke-width="1.35" fill="none" stroke-linejoin="miter"/>
<path d="M564.6 763L563 769.4M569.8 763L568.2 769.4" stroke="#1a1a1a" stroke-width="1.3" fill="none"/>
<path d="M526.4 799.5L530.5 796.5999999999999V814.9" stroke="#1a1a1a" stroke-width="1.35" fill="none" stroke-linejoin="miter"/>
<path d="M543.6 799.5L547.7 796.5999999999999V814.9" stroke="#1a1a1a" stroke-width="1.35" fill="none" stroke-linejoin="miter"/>
<path d="M568.8 795.2L553.4 819.8" stroke="#1a1a1a" stroke-width="1.3" fill="none"/>
<text transform="translate(569.60,815.00) scale(0.9388,1)" font-size="28.41" font-weight="normal" fill="#0c0c0c" stroke="#fff" stroke-width="0.45">4</text>
<path d="M592.8 796.3L591.2 802.7M598 796.3L596.4 802.7" stroke="#1a1a1a" stroke-width="1.3" fill="none"/>
<text transform="translate(182.50,888.80) scale(0.7776,1)" font-size="25.36" font-weight="bold" fill="#1d1d1d"  stroke="#1d1d1d" stroke-width="0.6" stroke-linejoin="round">D</text>
<text transform="translate(307.80,888.80) scale(0.6641,1)" font-size="25.36" font-weight="bold" fill="#1d1d1d"  stroke="#1d1d1d" stroke-width="0.6" stroke-linejoin="round">E</text>
<text transform="translate(428.60,888.80) scale(0.6722,1)" font-size="25.36" font-weight="bold" fill="#1d1d1d"  stroke="#1d1d1d" stroke-width="0.6" stroke-linejoin="round">F</text>
<text transform="translate(552.90,889.10) scale(0.8531,1)" font-size="26.00" font-weight="bold" fill="#1d1d1d"  stroke="#1d1d1d" stroke-width="0.6" stroke-linejoin="round">G</text>
<text transform="translate(679.90,888.80) scale(0.9200,1)" font-size="25.36" font-weight="bold" fill="#1d1d1d"  stroke="#1d1d1d" stroke-width="0.6" stroke-linejoin="round">H</text>
<text transform="translate(760.90,888.60) scale(0.8454,1)" font-size="26.81" font-weight="bold" fill="#1d1d1d"  stroke="#1d1d1d" stroke-width="0.6" stroke-linejoin="round">Mass (kg)</text>
<text transform="translate(163.00,923.50) scale(0.9317,1)" font-size="28.14" font-weight="normal" fill="#0c0c0c" stroke="#fff" stroke-width="0.45">78,5</text>
<text transform="translate(280.30,923.50) scale(0.9234,1)" font-size="28.14" font-weight="normal" fill="#0c0c0c" stroke="#fff" stroke-width="0.45">249,5</text>
<text transform="translate(418.50,923.50) scale(0.9411,1)" font-size="28.14" font-weight="normal" fill="#0c0c0c" stroke="#fff" stroke-width="0.45">47</text>
<text transform="translate(529.60,923.50) scale(0.9135,1)" font-size="28.14" font-weight="normal" fill="#0c0c0c" stroke="#fff" stroke-width="0.45">202,5</text>
<text transform="translate(667.20,923.50) scale(0.8851,1)" font-size="28.14" font-weight="normal" fill="#0c0c0c" stroke="#fff" stroke-width="0.45">203</text>
<text transform="translate(787.30,923.50) scale(0.8842,1)" font-size="28.14" font-weight="normal" fill="#0c0c0c" stroke="#fff" stroke-width="0.45">4,41</text>
<text transform="translate(163.00,957.80) scale(0.9317,1)" font-size="28.14" font-weight="normal" fill="#0c0c0c" stroke="#fff" stroke-width="0.45">78,5</text>
<text transform="translate(289.90,957.80) scale(0.8468,1)" font-size="28.14" font-weight="normal" fill="#0c0c0c" stroke="#fff" stroke-width="0.45">253</text>
<text transform="translate(418.50,957.80) scale(0.9411,1)" font-size="28.14" font-weight="normal" fill="#0c0c0c" stroke="#fff" stroke-width="0.45">47</text>
<text transform="translate(538.60,957.80) scale(0.8745,1)" font-size="28.14" font-weight="normal" fill="#0c0c0c" stroke="#fff" stroke-width="0.45">206</text>
<text transform="translate(669.00,957.80) scale(0.9022,1)" font-size="28.14" font-weight="normal" fill="#0c0c0c" stroke="#fff" stroke-width="0.45">210</text>
<text transform="translate(787.30,957.80) scale(0.8842,1)" font-size="28.14" font-weight="normal" fill="#0c0c0c" stroke="#fff" stroke-width="0.45">4,71</text>
</svg>
</body></html>
